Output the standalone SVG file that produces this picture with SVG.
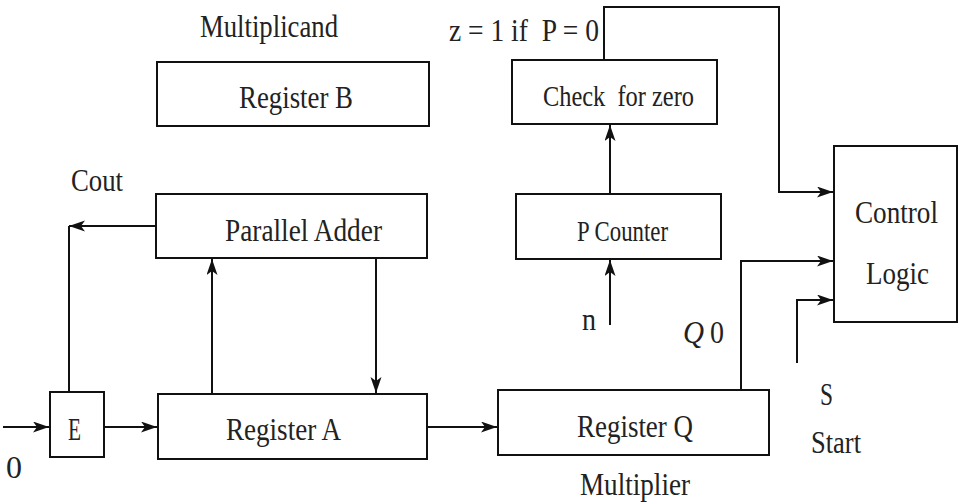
<svg xmlns="http://www.w3.org/2000/svg" width="958" height="504" viewBox="0 0 958 504">
<style>
.box{fill:#fff;stroke:#111;stroke-width:2}
.ln{fill:none;stroke:#111;stroke-width:2}
text{font-family:'Liberation Serif','DejaVu Serif','Times New Roman',serif;font-size:32px;fill:#222}
.s{font-size:30px}
</style>
<defs>
<marker id="ah" markerUnits="userSpaceOnUse" markerWidth="17" markerHeight="12" refX="16" refY="5.5" orient="auto">
<path d="M0,0 L16,5.5 L0,11 L4,5.5 z" fill="#111"/>
</marker>
</defs>
<rect width="958" height="504" fill="#fff"/>
<g id="connectors">
<path class="ln" d="M3,427 H49" marker-end="url(#ah)"/>
<path class="ln" d="M104,427 H157" marker-end="url(#ah)"/>
<path class="ln" d="M156,226 H69" marker-end="url(#ah)"/>
<path class="ln" d="M69,226 V392"/>
<path class="ln" d="M212,394 V259" marker-end="url(#ah)"/>
<path class="ln" d="M376,258 V393" marker-end="url(#ah)"/>
<path class="ln" d="M427,427 H497" marker-end="url(#ah)"/>
<path class="ln" d="M610,325 V260" marker-end="url(#ah)"/>
<path class="ln" d="M610,194 V125" marker-end="url(#ah)"/>
<path class="ln" d="M604,60 V7 H779 V192 H833" marker-end="url(#ah)"/>
<path class="ln" d="M741,390 V261 H833" marker-end="url(#ah)"/>
<path class="ln" d="M797,363 V300 H833" marker-end="url(#ah)"/>
</g>
<g id="registerB">
<rect class="box" x="157" y="62" width="272" height="64"/>
<text x="239" y="108" textLength="114" lengthAdjust="spacingAndGlyphs">Register B</text>
</g>
<g id="parallelAdder">
<rect class="box" x="156" y="194" width="271" height="64"/>
<text x="225" y="241" textLength="157" lengthAdjust="spacingAndGlyphs">Parallel Adder</text>
</g>
<g id="E">
<rect class="box" x="50" y="392" width="54" height="65"/>
<text x="68" y="440" textLength="13" lengthAdjust="spacingAndGlyphs">E</text>
</g>
<g id="registerA">
<rect class="box" x="158" y="394" width="269" height="65"/>
<text x="226" y="440" textLength="115" lengthAdjust="spacingAndGlyphs">Register A</text>
</g>
<g id="checkZero">
<rect class="box" x="512" y="60" width="205" height="64"/>
<text class="s" x="543" y="106" textLength="151" lengthAdjust="spacingAndGlyphs" xml:space="preserve">Check  for zero</text>
</g>
<g id="pCounter">
<rect class="box" x="516" y="194" width="205" height="65"/>
<text class="s" x="577" y="241" textLength="91" lengthAdjust="spacingAndGlyphs">P Counter</text>
</g>
<g id="registerQ">
<rect class="box" x="498" y="390" width="271" height="65"/>
<text x="577" y="437" textLength="116" lengthAdjust="spacingAndGlyphs">Register Q</text>
</g>
<g id="controlLogic">
<rect class="box" x="834" y="146" width="123" height="176"/>
<text x="855" y="223" textLength="83" lengthAdjust="spacingAndGlyphs">Control</text>
<text x="866" y="284" textLength="63" lengthAdjust="spacingAndGlyphs">Logic</text>
</g>
<g id="labels">
<text x="200" y="37" textLength="138" lengthAdjust="spacingAndGlyphs">Multiplicand</text>
<text x="449" y="41" textLength="150" lengthAdjust="spacingAndGlyphs" xml:space="preserve">z = 1 if  P = 0</text>
<text x="71" y="191" textLength="52" lengthAdjust="spacingAndGlyphs">Cout</text>
<text x="6" y="478">0</text>
<text x="582" y="330" textLength="14" lengthAdjust="spacingAndGlyphs">n</text>
<text x="683" y="343" font-style="italic" textLength="21" lengthAdjust="spacingAndGlyphs">Q</text>
<text x="710" y="343" textLength="14" lengthAdjust="spacingAndGlyphs">0</text>
<text x="580" y="495" textLength="110" lengthAdjust="spacingAndGlyphs">Multiplier</text>
<text x="820" y="405" textLength="13" lengthAdjust="spacingAndGlyphs">S</text>
<text x="811" y="453" textLength="50" lengthAdjust="spacingAndGlyphs">Start</text>
</g>
</svg>
